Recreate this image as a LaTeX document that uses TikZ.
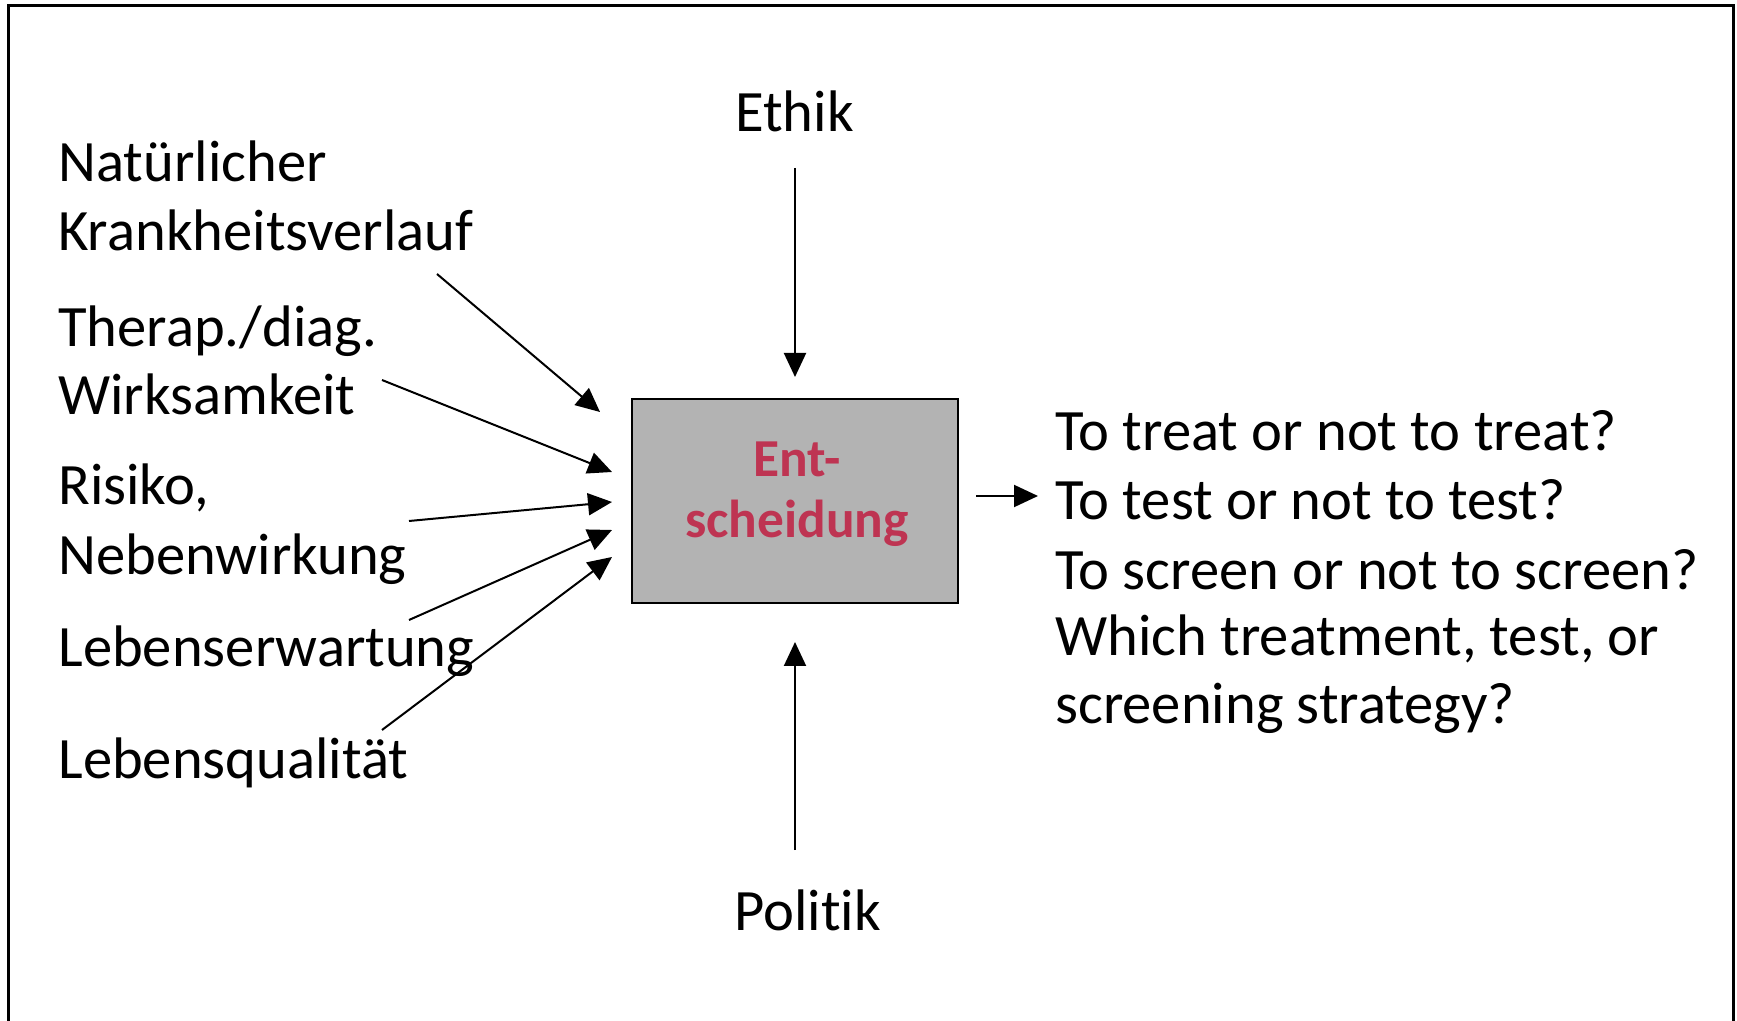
\documentclass[tikz,border=0pt]{standalone}
\usepackage{fontspec}
\setmainfont{Carlito}[Ligatures={NoCommon}]
\usetikzlibrary{arrows.meta}
\definecolor{boxgray}{RGB}{179,179,179}
\definecolor{decred}{RGB}{190,52,82}
\begin{document}
\begin{tikzpicture}[x=0.5pt,y=-0.5pt,
  lbl/.style={anchor=base west,inner sep=0pt,font=\fontsize{29.3pt}{35pt}\selectfont},
  dectext/.style={anchor=base,inner sep=0pt,text=decred,font=\bfseries\fontsize{26.7pt}{32pt}\selectfont},
  arr/.style={line width=1pt,-{Triangle[length=12pt,width=11pt]}},
  decbox/.style={draw,line width=1pt,fill=boxgray}]
\useasboundingbox (0,0) rectangle (1737,1021);
% open frame
\draw[line width=1.5pt] (8,1030) -- (8,6) -- (1733,6) -- (1733,1030);

% decision box
\node[decbox,minimum width=163pt,minimum height=102pt,inner sep=0pt] (box) at (795,501) {};
\node[dectext] (ent1) at (797,477) {Ent-};
\node[dectext] (ent2) at (797,538) {scheidung};

% influencing factors
\node[lbl] (nat1) at (58,182) {Natürlicher};
\node[lbl] (nat2) at (58,251) {Krankheitsverlauf};
\node[lbl] (ther1) at (58,347) {Therap./diag.};
\node[lbl] (ther2) at (58,415) {Wirksamkeit};
\node[lbl] (ris1) at (58,505) {Risiko,};
\node[lbl] (ris2) at (58,575) {Nebenwirkung};
\node[lbl] (leb) at (58,667) {Lebenserwartung};
\node[lbl] (lq) at (58,778) {Lebensqualität};
\node[lbl] (ethik) at (735,132) {Ethik};
\node[lbl] (politik) at (734,930) {Politik};

% questions
\node[lbl] (q1) at (1055,451) {To treat or not to treat?};
\node[lbl] (q2) at (1055,520) {To test or not to test?};
\node[lbl] (q3) at (1055,590) {To screen or not to screen?};
\node[lbl] (q4) at (1055,656) {Which treatment, test, or};
\node[lbl] (q5) at (1055,724) {screening strategy?};

% arrow end points
\coordinate (s1) at (437,274); \coordinate (t1) at (600,412);
\coordinate (s2) at (382,380); \coordinate (t2) at (612,472);
\coordinate (s3) at (409,521); \coordinate (t3) at (612,502);
\coordinate (s4) at (409,620); \coordinate (t4) at (612,530);
\coordinate (s5) at (382,730); \coordinate (t5) at (612,557);
\coordinate (se) at (795,168); \coordinate (te) at (795,377);
\coordinate (sp) at (795,850); \coordinate (tp) at (795,642);
\coordinate (so) at (976,496); \coordinate (to) at (1038,496);

\draw[arr] (s1) -- (t1);
\draw[arr] (s2) -- (t2);
\draw[arr] (s3) -- (t3);
\draw[arr] (s4) -- (t4);
\draw[arr] (s5) -- (t5);
\draw[arr] (se) -- (te);
\draw[arr] (sp) -- (tp);
\draw[arr] (so) -- (to);
\end{tikzpicture}
\end{document}
